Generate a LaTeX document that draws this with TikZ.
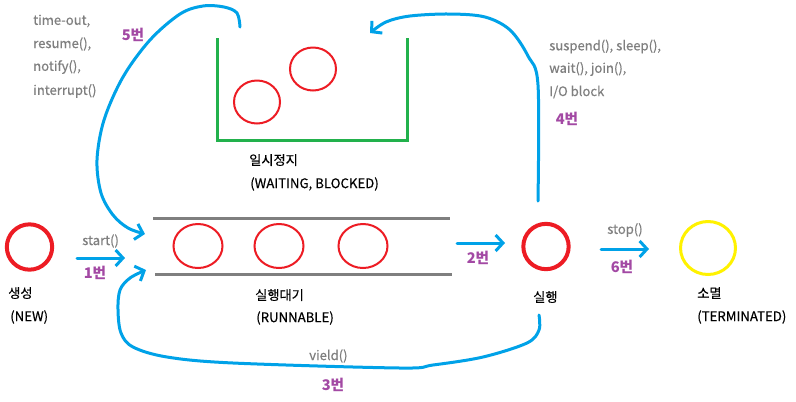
\documentclass[tikz,border=0pt]{standalone}
\usepackage{fontspec}
\setmainfont{Noto Sans CJK KR}
\newfontfamily\medfont{Noto Sans CJK KR}[FakeBold=0.4]
\usetikzlibrary{arrows.meta,shapes.geometric}
\definecolor{pblue}{HTML}{00A2E8}
\definecolor{pred}{HTML}{ED1C24}
\definecolor{pgreen}{HTML}{22B14C}
\definecolor{pyellow}{HTML}{FFF200}
\definecolor{pgray}{HTML}{7F7F7F}
\definecolor{ppurple}{HTML}{A349A4}
\tikzset{
  thread/.style={ellipse,draw=pred,line width=1.5pt,inner sep=0pt},
  bigthread/.style={circle,draw=pred,line width=3pt,inner sep=0pt,minimum size=34pt},
  flow/.style={draw=pblue,line width=2.25pt,line cap=round,line join=round,
    -{Straight Barb[length=5.5pt,width=12pt,line width=2.25pt]}},
  bar/.style={draw=pgray,line width=2.25pt},
  meth/.style={anchor=west,inner sep=0pt,text=pgray,font=\medfont\fontsize{9.8}{11}\selectfont},
  lbl/.style={anchor=west,inner sep=0pt,text=black,font=\medfont\fontsize{9.9}{11}\selectfont},
  num/.style={inner sep=0pt,text=ppurple,font=\bfseries\fontsize{11}{13}\selectfont}
}
\begin{document}
\begin{tikzpicture}[x=0.75pt,y=-0.75pt]
\useasboundingbox[fill=white] (0,0) rectangle (796,401);
% waiting box
\draw[pgreen,line width=2.25pt] (217,38) -- (217,140) -- (407,140) -- (407,38);
\node[thread,minimum width=34.5pt,minimum height=32.25pt] (w1) at (257,102) {};
\node[thread,minimum width=34.5pt,minimum height=32.25pt] (w2) at (313,69) {};
\node[lbl] (lw1) at (249,160) {일시정지};
\node[lbl] (lw2) at (250,184) {(WAITING, BLOCKED)};
% runnable queue
\draw[bar] (153,218) -- (450,218);
\draw[bar] (155,274) -- (452,274);
\node[thread,minimum width=36.75pt,minimum height=33pt] (r1) at (198,246) {};
\node[thread,minimum width=36.75pt,minimum height=33pt] (r2) at (279,246) {};
\node[thread,minimum width=36.75pt,minimum height=33pt] (r3) at (363,246) {};
\node[lbl] (lr1) at (255,295) {실행대기};
\node[lbl] (lr2) at (256,318) {(RUNNABLE)};
% new
\node[bigthread] (new) at (29.5,247) {};
\node[lbl] (ln1) at (8,293) {생성};
\node[lbl] (ln2) at (10,317) {(NEW)};
% running
\node[bigthread] (run) at (546,246.5) {};
\node[lbl] (lu1) at (533,297) {실행};
% terminated
\node[ellipse,draw=pyellow,line width=2.25pt,inner sep=0pt,minimum width=41.25pt,minimum height=39.75pt] (term) at (708,248) {};
\node[lbl] (lt1) at (697,293) {소멸};
\node[lbl] (lt2) at (697,317) {(TERMINATED)};
% arrow 1
\coordinate (a1s) at (77,258);
\coordinate (a1e) at (125,258);
\draw[flow] (a1s) -- (a1e);
\node[meth] (m1) at (82,241) {start()};
\node[num] (n1) at (95,273) {1번};
% arrow 2
\coordinate (a2s) at (457,243);
\coordinate (a2e) at (505,243);
\draw[flow] (a2s) -- (a2e);
\node[num] (n2) at (478,258) {2번};
% arrow 6
\coordinate (a6s) at (601,249);
\coordinate (a6e) at (649,249);
\draw[flow] (a6s) -- (a6e);
\node[meth] (m6) at (607,230) {stop()};
\node[num] (n6) at (622,267) {6번};
% arrow 3
\coordinate (a3s) at (539,315);
\coordinate (a3e) at (146,270);
\draw[flow] plot[smooth,tension=0.55] coordinates {(a3s) (539,330) (527,343) (483,357) (433,365) (400,368) (233,363) (167,357) (133,347) (121,333) (118,310) (120,290) (130,278) (a3e)};
\node[meth] (m3) at (309,356) {vield()};
\node[num] (n3) at (333,385) {3번};
% arrow 4
\coordinate (a4s) at (538,201);
\coordinate (a4e) at (370,33);
\draw[flow] plot[smooth,tension=0.55] coordinates {(a4s) (538,85) (528,56) (510,30) (485,17) (450,14) (410,16) (386,22) (a4e)};
\node[meth] (m4a) at (549,46.5) {suspend(), sleep(),};
\node[meth] (m4b) at (549,69) {wait(), join(),};
\node[meth] (m4c) at (549,92) {I/O block};
\node[num] (n4) at (567,119) {4번};
% arrow 5
\coordinate (a5s) at (240,27);
\coordinate (a5e) at (145,234);
\draw[flow] plot[smooth,tension=0.55] coordinates {(a5s) (237,13) (224,7) (203,6) (180,14) (150,40) (123,77) (104,120) (97,160) (101,193) (113,215) (128,228) (a5e)};
\node[meth] (m5a) at (33,21) {time-out,};
\node[meth] (m5b) at (33,44) {resume(),};
\node[meth] (m5c) at (33,67) {notify(),};
\node[meth] (m5d) at (33,91) {interrupt()};
\node[num] (n5) at (133,35) {5번};
\end{tikzpicture}
\end{document}
